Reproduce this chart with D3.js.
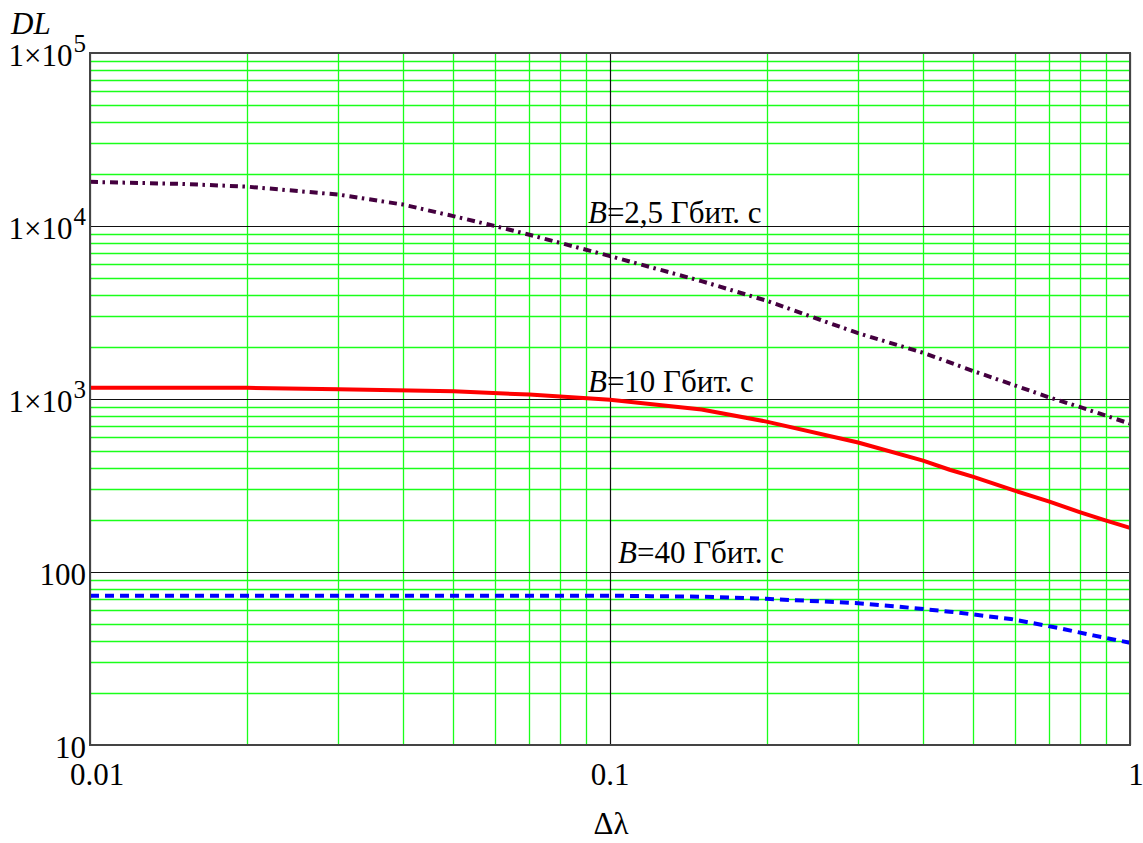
<!DOCTYPE html>
<html>
<head>
<meta charset="utf-8">
<script src="https://cdn.jsdelivr.net/npm/d3@7"></script>
<style>
  html, body { margin: 0; padding: 0; background: #fff; }
  svg { display: block; }
</style>
</head>
<body>
<svg id="chart" width="1143" height="843"></svg>
<script>
// ---- data ----
const dlam25 = [0.01, 0.015, 0.02, 0.03, 0.04, 0.05, 0.06, 0.07, 0.08, 0.1, 0.15, 0.2, 0.3, 0.4, 0.5, 0.6, 0.7, 0.8, 0.9, 1.0];
const dl25   = [18000, 17500, 16900, 15200, 13300, 11400, 10000, 8900, 8000, 6700, 4800, 3700, 2400, 1850, 1450, 1200, 1020, 900, 800, 720];

const dlam10 = [0.01, 0.02, 0.03, 0.05, 0.07, 0.1, 0.15, 0.2, 0.3, 0.4, 0.45, 0.5, 0.6, 0.7, 0.8, 0.9, 1.0];
const dl10   = [1160, 1160, 1140, 1110, 1060, 990, 870, 740, 560, 440, 390, 355, 295, 255, 222, 198, 180];

const dlam40 = [0.01, 0.05, 0.1, 0.12, 0.15, 0.2, 0.3, 0.36, 0.45, 0.59, 0.74, 0.85, 1.0];
const dl40   = [73, 73, 73, 72.5, 72, 70, 66, 63, 59, 53.5, 47, 43, 39];

const yTickValues = [10, 100, 1000, 10000, 100000];
const yTickBase   = ["10", "100", "1×10", "1×10", "1×10"];
const yTickExp    = ["", "", "3", "4", "5"];
const xTickValues = [0.01, 0.1, 1];
const xTickLabels = ["0.01", "0.1", "1"];

// label anchors in data coordinates (Δλ, DL at text baseline)
const seriesLabels = [
  { pre: "B", rest: "=2,5 Гбит. с", at: [0.0907, 10400] },
  { pre: "B", rest: "=10 Гбит. с",  at: [0.0907, 1100] },
  { pre: "B", rest: "=40 Гбит. с",  at: [0.1036, 112] }
];

const FONT = "'Liberation Serif', 'Times New Roman', 'DejaVu Serif', serif";
const FS = 31;

// ---- layout ----
const svg = d3.select("#chart");
const L = 90, R = 1130, T = 53, B = 745;
const x = d3.scaleLog().domain([0.01, 1]).range([L, R]);
const y = d3.scaleLog().domain([10, 100000]).range([B, T]);

const isMajor = v => Math.abs(Math.log10(v) - Math.round(Math.log10(v))) < 1e-9;

// minor green grid
const g = svg.append("g");
x.ticks().filter(v => !isMajor(v)).forEach(v => {
  const p = Math.round(x(v)) + 0.5;
  g.append("line").attr("x1", p).attr("x2", p).attr("y1", T).attr("y2", B)
    .attr("stroke", "#1aff1a").attr("stroke-width", 1.3);
});
y.ticks().filter(v => !isMajor(v)).forEach(v => {
  const p = Math.round(y(v)) + 0.5;
  g.append("line").attr("x1", L).attr("x2", R).attr("y1", p).attr("y2", p)
    .attr("stroke", "#1aff1a").attr("stroke-width", 1.3);
});
// major black grid
xTickValues.forEach(v => {
  const p = Math.round(x(v)) + 0.5;
  g.append("line").attr("x1", p).attr("x2", p).attr("y1", T).attr("y2", B)
    .attr("stroke", "#111").attr("stroke-width", 1.2);
});
yTickValues.forEach(v => {
  const p = Math.round(y(v)) + 0.5;
  g.append("line").attr("x1", L).attr("x2", R).attr("y1", p).attr("y2", p)
    .attr("stroke", "#111").attr("stroke-width", 1.2);
});

// series
const line = d3.line().x(d => x(d[0])).y(d => y(d[1]));
svg.append("path").datum(d3.zip(dlam25, dl25)).attr("d", line)
  .attr("fill", "none").attr("stroke", "#44003f").attr("stroke-width", 4)
  .attr("stroke-dasharray", "8,4.5,2.5,5");
svg.append("path").datum(d3.zip(dlam10, dl10)).attr("d", line)
  .attr("fill", "none").attr("stroke", "#ff0000").attr("stroke-width", 4);
svg.append("path").datum(d3.zip(dlam40, dl40)).attr("d", line)
  .attr("fill", "none").attr("stroke", "#0000ff").attr("stroke-width", 4)
  .attr("stroke-dasharray", "9,6");

// frame
svg.append("rect").attr("x", L).attr("y", T).attr("width", R - L).attr("height", B - T)
  .attr("fill", "none").attr("stroke", "#444").attr("stroke-width", 2);

function txt(xp, yp, size) {
  return svg.append("text").attr("x", xp).attr("y", yp)
    .attr("font-family", FONT).attr("font-size", size).attr("fill", "#000");
}

// y tick labels
yTickValues.forEach((v, i) => {
  const t = txt(L - 4, y(v) + 13, FS).attr("text-anchor", "end");
  t.append("tspan").text(yTickBase[i]);
  if (yTickExp[i]) {
    t.append("tspan").attr("font-size", 25).attr("dx", 1).attr("dy", -14).text(yTickExp[i]);
  }
});

// x tick labels
xTickValues.forEach((v, i) => {
  const dx = i === 0 ? 7 : (i === xTickValues.length - 1 ? 6 : 0);
  txt(x(v) + dx, 785, FS).attr("text-anchor", "middle").text(xTickLabels[i]);
});

// axis titles
txt(11, 34, FS).attr("font-style", "italic").text("DL");
txt(x(0.1) + 1, 834, FS).attr("text-anchor", "middle").text("Δλ");

// series labels
seriesLabels.forEach(s => {
  const t = txt(x(s.at[0]), y(s.at[1]), FS);
  t.append("tspan").attr("font-style", "italic").text(s.pre);
  t.append("tspan").text(s.rest);
});
</script>
</body>
</html>
